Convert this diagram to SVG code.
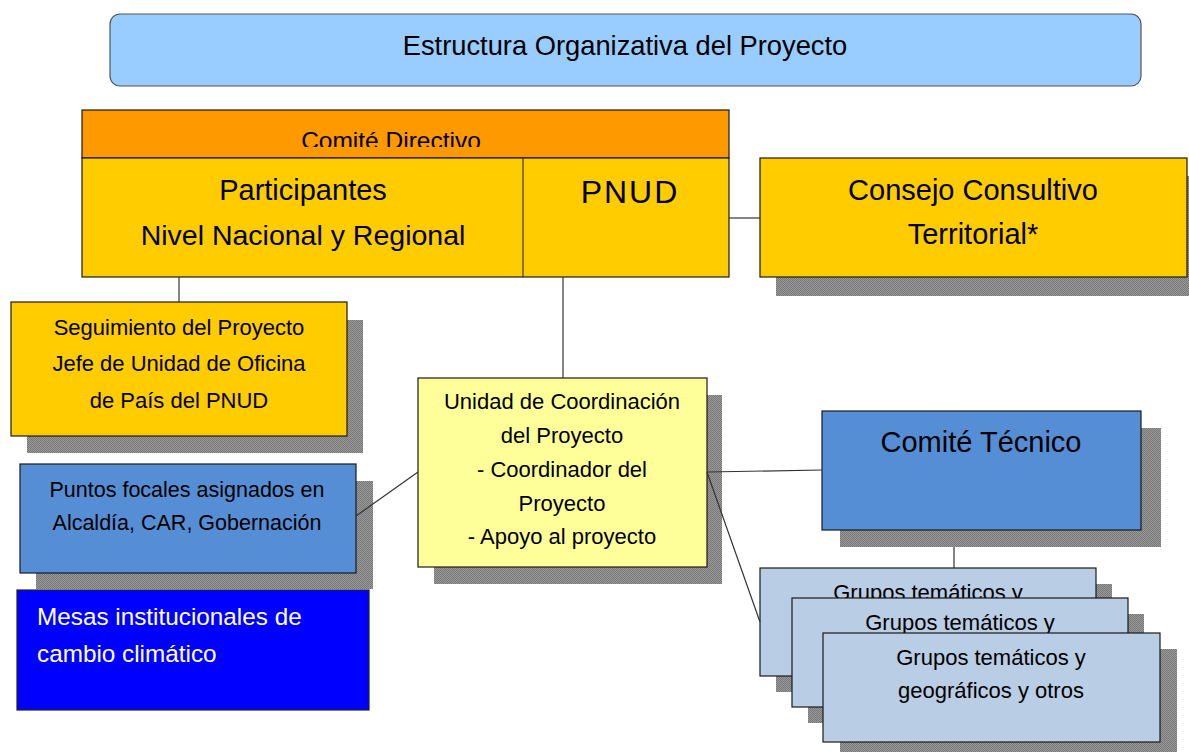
<svg xmlns="http://www.w3.org/2000/svg" width="1189" height="752" viewBox="0 0 1189 752">
<defs>
<pattern id="chk" width="2" height="2" patternUnits="userSpaceOnUse">
<rect width="2" height="2" fill="#9a9a9a"/>
<rect width="1" height="1" fill="#777"/>
<rect x="1" y="1" width="1" height="1" fill="#777"/>
</pattern>
<clipPath id="hdrclip"><rect x="82" y="110" width="647" height="37"/></clipPath>
</defs>
<style>
text{font-family:"Liberation Sans",Arial,sans-serif;fill:#000;text-anchor:middle}
.box{stroke:#1a1a1a;stroke-width:1.2}
.sh{fill:url(#chk)}
.conn{stroke:#333;stroke-width:1.2;fill:none}
.yel{fill:#ffcc00}
.blu{fill:#558ed5}
.grp{fill:#b9cde5}
</style>
<rect width="1189" height="752" fill="#fff"/>

<g id="title">
<rect x="110" y="14" width="1031" height="72" rx="10" fill="#99ccff" stroke="#555" stroke-width="1.2"/>
<text x="625" y="55" font-size="27.3">Estructura Organizativa del Proyecto</text>
</g>

<g id="comite-directivo">
<rect class="box" x="82" y="110" width="647" height="48" fill="#ff9900"/>
<text x="391" y="149" font-size="24.5" clip-path="url(#hdrclip)">Comité Directivo</text>
<rect class="box yel" x="82" y="158" width="647" height="119"/>
<line x1="523" y1="158" x2="523" y2="277" stroke="#1a1a1a" stroke-width="1"/>
<text x="303" y="200" font-size="29">Participantes</text>
<text x="303" y="245" font-size="28.5">Nivel Nacional y Regional</text>
<text x="630" y="203" font-size="32" letter-spacing="2">PNUD</text>
</g>

<g id="consejo">
<rect class="sh" x="776" y="176" width="413" height="120"/>
<rect class="box yel" x="760" y="158" width="427" height="119"/>
<text x="973" y="200" font-size="29">Consejo Consultivo</text>
<text x="973" y="244" font-size="29">Territorial*</text>
</g>

<g id="seguimiento">
<rect class="sh" x="27" y="320" width="336" height="133"/>
<rect class="box yel" x="11" y="302" width="336" height="134"/>
<text x="179" y="335" font-size="22">Seguimiento del Proyecto</text>
<text x="179" y="371" font-size="22">Jefe de Unidad de Oficina</text>
<text x="179" y="408" font-size="22">de País del PNUD</text>
</g>

<g id="puntos-focales">
<rect class="sh" x="36" y="481" width="337" height="108"/>
<rect class="box blu" x="20" y="464" width="336" height="109"/>
<text x="187" y="497" font-size="21.5">Puntos focales asignados en</text>
<text x="187" y="530" font-size="21.5">Alcaldía, CAR, Gobernación</text>
</g>

<g id="mesas">
<rect x="17" y="590" width="352" height="120" fill="#0000ff" stroke="#222" stroke-width="1.2"/>
<text x="37" y="625" font-size="24.3" style="text-anchor:start;fill:#fff">Mesas institucionales de</text>
<text x="37" y="662" font-size="24.3" style="text-anchor:start;fill:#fff">cambio climático</text>
</g>

<g id="unidad">
<rect class="sh" x="434" y="395" width="288" height="189"/>
<rect class="box" x="418" y="378" width="289" height="189" fill="#ffff99"/>
<text x="562" y="409" font-size="22">Unidad de Coordinación</text>
<text x="562" y="443" font-size="22">del Proyecto</text>
<text x="562" y="477" font-size="22">- Coordinador del</text>
<text x="562" y="511" font-size="22">Proyecto</text>
<text x="562" y="544" font-size="22">- Apoyo al proyecto</text>
</g>

<g id="comite-tecnico">
<rect class="sh" x="840" y="428" width="321" height="119"/>
<rect class="box blu" x="822" y="411" width="319" height="119"/>
<text x="981" y="452" font-size="29">Comité Técnico</text>
</g>

<g id="grupos-1">
<rect class="sh" x="776" y="584" width="336" height="108"/>
<rect class="box grp" x="760" y="568" width="336" height="108"/>
<text x="928" y="600" font-size="22">Grupos temáticos y</text>
</g>

<g id="grupos-2">
<rect class="sh" x="808" y="614" width="336" height="109"/>
<rect class="box grp" x="792" y="598" width="336" height="109"/>
<text x="960" y="630" font-size="22">Grupos temáticos y</text>
</g>

<g id="grupos-3">
<rect class="sh" x="840" y="649" width="337" height="103"/>
<rect class="box grp" x="823" y="633" width="337" height="109"/>
<text x="991" y="665" font-size="22">Grupos temáticos y</text>
<text x="991" y="698" font-size="22">geográficos y otros</text>
</g>

<g id="connectors">
<line class="conn" x1="179" y1="277" x2="179" y2="302"/>
<line class="conn" x1="563" y1="277" x2="563" y2="378"/>
<line class="conn" x1="729" y1="218" x2="760" y2="218"/>
<line class="conn" x1="356" y1="516" x2="418" y2="472"/>
<line class="conn" x1="707" y1="472" x2="822" y2="470"/>
<line class="conn" x1="707" y1="472" x2="760" y2="622"/>
<line class="conn" x1="954" y1="547" x2="954" y2="568"/>
</g>
</svg>
